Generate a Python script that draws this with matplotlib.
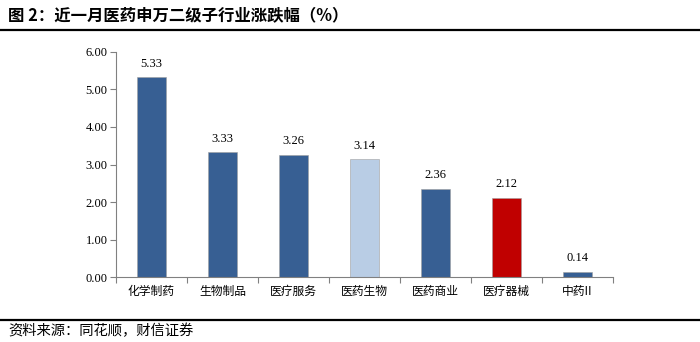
import matplotlib
matplotlib.use("Agg")
from matplotlib import pyplot as plt
from matplotlib.lines import Line2D
import numpy as np

plt.rcParams["font.family"] = ["Noto Sans CJK SC", "DejaVu Sans"]

categories = ["化学制药", "生物制品", "医疗服务", "医药生物", "医药商业", "医疗器械", "中药II"]
changes = [5.33, 3.33, 3.26, 3.14, 2.36, 2.12, 0.14]
colors = ["#375f93", "#375f93", "#375f93", "#b9cde5", "#375f93", "#c00000", "#375f93"]
yticks = [0, 1, 2, 3, 4, 5, 6]

fig = plt.figure(figsize=(7, 3.42), dpi=100)
ax = fig.add_axes([0.1657, 0.19, 0.71, 0.658])

x = np.arange(len(categories))
ax.bar(x, changes, width=0.42, color=colors, edgecolor="#a0a0a0", linewidth=0.4)
for xi, v in zip(x, changes):
    ax.text(xi, v + 0.2, f"{v:.2f}", ha="center", va="bottom",
            fontsize=9, family="Liberation Serif")

ax.set_xlim(-0.5, len(categories) - 0.5)
ax.set_ylim(0, 6)
ax.set_yticks(yticks)
ax.set_yticklabels([f"{t:.2f}" for t in yticks], family="Liberation Serif", fontsize=9)
ax.set_xticks(x)
ax.set_xticklabels(categories, fontsize=8.5)
ax.tick_params(axis="x", length=0, pad=6)
ax.set_xticks(np.arange(len(categories) + 1) - 0.5, minor=True)
ax.tick_params(axis="x", which="minor", length=4, color="#808080", width=0.8)
ax.tick_params(axis="y", length=4, color="#808080", width=0.8, pad=2)

for side in ["top", "right"]:
    ax.spines[side].set_visible(False)
for side in ["left", "bottom"]:
    ax.spines[side].set_color("#808080")
    ax.spines[side].set_linewidth(0.8)

# title and source with rules
fig.text(0.012, 0.955, "图 2：近一月医药申万二级子行业涨跌幅（%）", fontsize=11.8,
         fontweight="bold", va="center", ha="left")
fig.add_artist(Line2D([0, 1], [1 - 30 / 342, 1 - 30 / 342], color="black", linewidth=1.6))
fig.add_artist(Line2D([0, 1], [1 - 320 / 342, 1 - 320 / 342], color="black", linewidth=1.6))
fig.text(0.012, 1 - 331 / 342, "资料来源：同花顺，财信证券", fontsize=10.3,
         va="center", ha="left", style="italic")

fig.savefig("out.png", dpi=100)
